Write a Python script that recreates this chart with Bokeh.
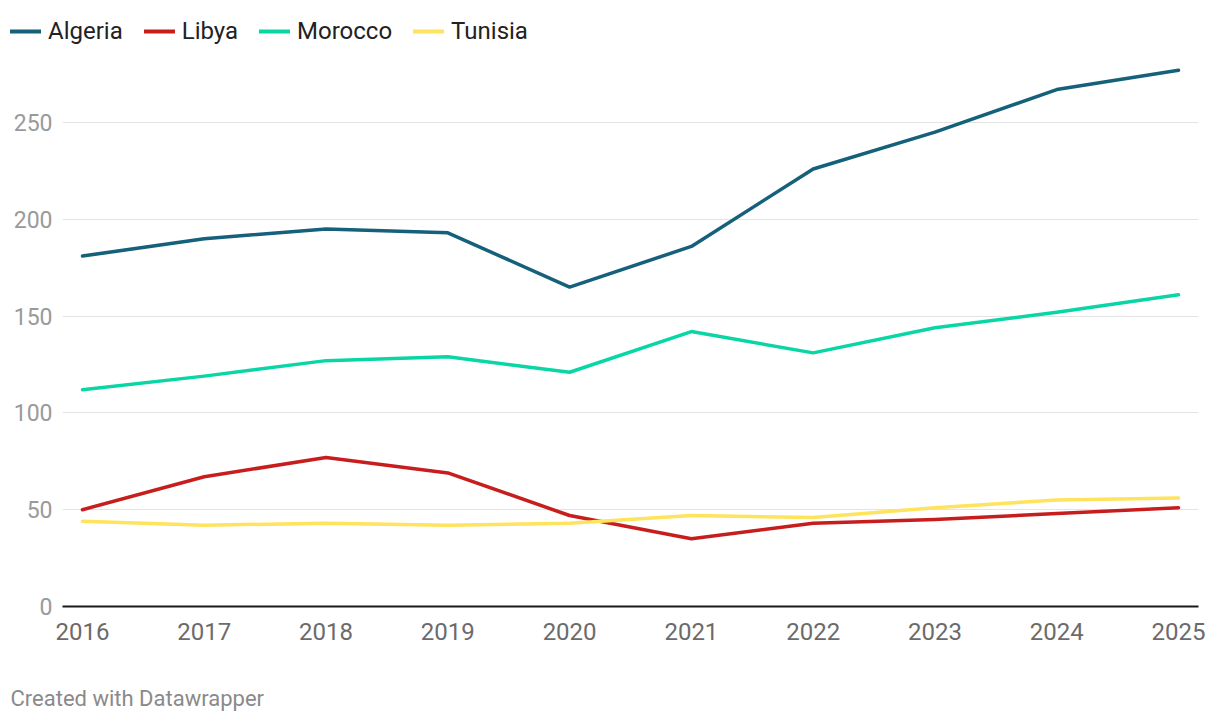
from bokeh.plotting import figure
from bokeh.models import (ColumnDataSource, Legend, LegendItem, FixedTicker, Range1d, Label)
from bokeh.layouts import column, row
from bokeh.embed import file_html
from bokeh.resources import INLINE

years = [2016, 2017, 2018, 2019, 2020, 2021, 2022, 2023, 2024, 2025]
algeria = [181, 190, 195, 193, 165, 186, 226, 245, 267, 277]
libya = [50, 67, 77, 69, 47, 35, 43, 45, 48, 51]
morocco = [112, 119, 127, 129, 121, 142, 131, 144, 152, 161]
tunisia = [44, 42, 43, 42, 43, 47, 46, 51, 55, 56]
series_names = ["Algeria", "Libya", "Morocco", "Tunisia"]
colors = ["#15607a", "#c71e1d", "#0ad6a5", "#ffe35c"]
y_ticks = [0, 50, 100, 150, 200, 250]

FONT = "Roboto"
W = 1212
LEG_H = 62
FOOT_H = 36

src = ColumnDataSource(dict(year=years, Algeria=algeria, Libya=libya,
                            Morocco=morocco, Tunisia=tunisia))


def strip(height):
    f = figure(width=W, height=height, output_backend="svg", toolbar_location=None,
               x_range=Range1d(0, 1), y_range=Range1d(0, 1),
               min_border_left=0, min_border_right=0, min_border_top=0,
               min_border_bottom=0, x_axis_location=None, y_axis_location=None)
    f.outline_line_color = None
    f.grid.visible = False
    return f


# ---- legend strip (its own frame spans the whole width) ----
lg = strip(LEG_H)
lg_renderers = []
for name, c in zip(series_names, colors):
    # same data, but outside this strip's ranges: only the legend swatch shows
    r = lg.line("year", name, source=src, line_color=c, line_width=4, line_cap="round")
    lg_renderers.append(r)
legend = Legend(items=[LegendItem(label=n, renderers=[r]) for n, r in zip(series_names, lg_renderers)],
                orientation="horizontal", location="left",
                label_text_font=FONT, label_text_font_size="24px",
                label_text_color="#222222", glyph_width=31, glyph_height=24,
                label_standoff=7, spacing=21, padding=0, margin=10,
                background_fill_alpha=0, border_line_color=None)
lg.add_layout(legend, "center")

# ---- main chart ----
p = figure(width=W, height=616, output_backend="svg", toolbar_location=None,
           x_range=Range1d(2015.836, 2025.164), y_range=Range1d(0, 281.0),
           min_border_left=62, min_border_right=14, min_border_top=0,
           min_border_bottom=72)
p.outline_line_color = None
p.background_fill_color = "white"
p.border_fill_color = "white"

for name, c in zip(series_names, colors):
    p.line("year", name, source=src, line_color=c, line_width=3.5,
           line_join="round", line_cap="round")

p.yaxis.ticker = FixedTicker(ticks=y_ticks)
p.xaxis.ticker = FixedTicker(ticks=years)
p.ygrid.ticker = FixedTicker(ticks=y_ticks[1:])
p.xgrid.grid_line_color = None
p.ygrid.grid_line_color = "#e3e3e3"
p.ygrid.grid_line_width = 1

p.yaxis.axis_line_color = None
p.yaxis.major_tick_line_color = None
p.yaxis.minor_tick_line_color = None
p.yaxis.major_label_text_font = FONT
p.yaxis.major_label_text_font_size = "23px"
p.yaxis.major_label_text_color = "#9a9a9a"
p.yaxis.major_label_standoff = 4

p.xaxis.axis_line_color = "#1a1a1a"
p.xaxis.axis_line_width = 2
p.xaxis.major_tick_line_color = None
p.xaxis.minor_tick_line_color = None
p.xaxis.major_label_text_font = FONT
p.xaxis.major_label_text_font_size = "24px"
p.xaxis.major_label_text_color = "#6b6b6b"
p.xaxis.major_label_standoff = 10

# ---- footer strip ----
ft = strip(FOOT_H)
ft.add_layout(Label(x=10, y=16, x_units="screen", y_units="screen",
                    text="Created with Datawrapper", text_font=FONT,
                    text_font_size="22px", text_color="#8a8a8a",
                    text_baseline="middle"))

layout = column(row(lg), p, row(ft), spacing=0)
open("out.html", "w").write(file_html(layout, INLINE))
